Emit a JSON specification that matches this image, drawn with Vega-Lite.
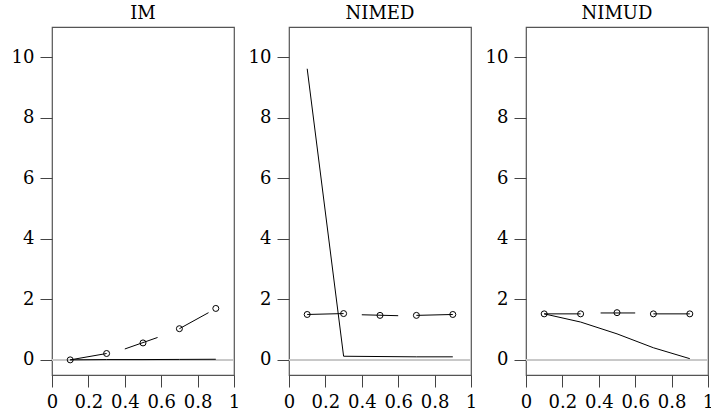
{
  "$schema": "https://vega.github.io/schema/vega-lite/v6.json",
  "padding": {"left": 10, "top": 5, "right": 2, "bottom": 2},
  "background": "white",
  "config": {
    "font": "DejaVu Serif",
    "view": {"stroke": "#555", "strokeWidth": 1.2},
    "axis": {"grid": false, "domain": false, "tickColor": "#444", "tickSize": 12, "labelFont": "DejaVu Serif", "labelFontSize": 18, "labelColor": "black", "title": null, "labelPadding": 6}
  },
  "data": {"values": [
    {"panel": "IM", "kind": "pt", "grp": "p", "x": 0.1, "y": 0.0},
    {"panel": "IM", "kind": "pt", "grp": "p", "x": 0.3, "y": 0.21},
    {"panel": "IM", "kind": "pt", "grp": "p", "x": 0.5, "y": 0.56},
    {"panel": "IM", "kind": "pt", "grp": "p", "x": 0.7, "y": 1.03},
    {"panel": "IM", "kind": "pt", "grp": "p", "x": 0.9, "y": 1.70},
    {"panel": "IM", "kind": "seg", "grp": "A", "x": 0.1, "y": 0.0},
    {"panel": "IM", "kind": "seg", "grp": "A", "x": 0.3, "y": 0.21},
    {"panel": "IM", "kind": "seg", "grp": "B", "x": 0.4, "y": 0.36},
    {"panel": "IM", "kind": "seg", "grp": "B", "x": 0.58, "y": 0.74},
    {"panel": "IM", "kind": "seg", "grp": "C", "x": 0.7, "y": 1.03},
    {"panel": "IM", "kind": "seg", "grp": "C", "x": 0.86, "y": 1.56},
    {"panel": "IM", "kind": "solid", "grp": "s", "x": 0.1, "y": 0.0},
    {"panel": "IM", "kind": "solid", "grp": "s", "x": 0.3, "y": 0.01},
    {"panel": "IM", "kind": "solid", "grp": "s", "x": 0.5, "y": 0.01},
    {"panel": "IM", "kind": "solid", "grp": "s", "x": 0.7, "y": 0.015},
    {"panel": "IM", "kind": "solid", "grp": "s", "x": 0.9, "y": 0.02},

    {"panel": "NIMED", "kind": "pt", "grp": "p", "x": 0.1, "y": 1.50},
    {"panel": "NIMED", "kind": "pt", "grp": "p", "x": 0.3, "y": 1.53},
    {"panel": "NIMED", "kind": "pt", "grp": "p", "x": 0.5, "y": 1.47},
    {"panel": "NIMED", "kind": "pt", "grp": "p", "x": 0.7, "y": 1.47},
    {"panel": "NIMED", "kind": "pt", "grp": "p", "x": 0.9, "y": 1.50},
    {"panel": "NIMED", "kind": "seg", "grp": "A", "x": 0.1, "y": 1.50},
    {"panel": "NIMED", "kind": "seg", "grp": "A", "x": 0.3, "y": 1.53},
    {"panel": "NIMED", "kind": "seg", "grp": "B", "x": 0.4, "y": 1.49},
    {"panel": "NIMED", "kind": "seg", "grp": "B", "x": 0.6, "y": 1.46},
    {"panel": "NIMED", "kind": "seg", "grp": "C", "x": 0.7, "y": 1.47},
    {"panel": "NIMED", "kind": "seg", "grp": "C", "x": 0.9, "y": 1.50},
    {"panel": "NIMED", "kind": "solid", "grp": "s", "x": 0.1, "y": 9.62},
    {"panel": "NIMED", "kind": "solid", "grp": "s", "x": 0.3, "y": 0.12},
    {"panel": "NIMED", "kind": "solid", "grp": "s", "x": 0.5, "y": 0.11},
    {"panel": "NIMED", "kind": "solid", "grp": "s", "x": 0.7, "y": 0.10},
    {"panel": "NIMED", "kind": "solid", "grp": "s", "x": 0.9, "y": 0.10},

    {"panel": "NIMUD", "kind": "pt", "grp": "p", "x": 0.1, "y": 1.52},
    {"panel": "NIMUD", "kind": "pt", "grp": "p", "x": 0.3, "y": 1.52},
    {"panel": "NIMUD", "kind": "pt", "grp": "p", "x": 0.5, "y": 1.56},
    {"panel": "NIMUD", "kind": "pt", "grp": "p", "x": 0.7, "y": 1.52},
    {"panel": "NIMUD", "kind": "pt", "grp": "p", "x": 0.9, "y": 1.52},
    {"panel": "NIMUD", "kind": "seg", "grp": "A", "x": 0.1, "y": 1.52},
    {"panel": "NIMUD", "kind": "seg", "grp": "A", "x": 0.3, "y": 1.52},
    {"panel": "NIMUD", "kind": "seg", "grp": "B", "x": 0.41, "y": 1.55},
    {"panel": "NIMUD", "kind": "seg", "grp": "B", "x": 0.6, "y": 1.55},
    {"panel": "NIMUD", "kind": "seg", "grp": "C", "x": 0.7, "y": 1.52},
    {"panel": "NIMUD", "kind": "seg", "grp": "C", "x": 0.9, "y": 1.52},
    {"panel": "NIMUD", "kind": "solid", "grp": "s", "x": 0.1, "y": 1.52},
    {"panel": "NIMUD", "kind": "solid", "grp": "s", "x": 0.3, "y": 1.25},
    {"panel": "NIMUD", "kind": "solid", "grp": "s", "x": 0.5, "y": 0.86},
    {"panel": "NIMUD", "kind": "solid", "grp": "s", "x": 0.7, "y": 0.40},
    {"panel": "NIMUD", "kind": "solid", "grp": "s", "x": 0.9, "y": 0.04}
  ]},
  "facet": {"column": {"field": "panel", "type": "nominal", "sort": ["IM", "NIMED", "NIMUD"], "header": {"title": null, "labelFont": "DejaVu Serif", "labelFontSize": 18, "labelFontWeight": "normal", "labelColor": "black", "labelPadding": 4}}},
  "bounds": "flush",
  "spacing": 55,
  "resolve": {"axis": {"y": "independent", "x": "independent"}},
  "spec": {
    "width": 182,
    "height": 348,
    "encoding": {
      "x": {"field": "x", "type": "quantitative", "scale": {"domain": [0, 1], "nice": false, "zero": false}, "axis": {"values": [0, 0.2, 0.4, 0.6, 0.8, 1], "labelExpr": "datum.value + ''", "labelFlush": false}},
      "y": {"field": "y", "type": "quantitative", "scale": {"domain": [-0.5, 11], "nice": false, "zero": false}, "axis": {"values": [0, 2, 4, 6, 8, 10], "labelExpr": "datum.value + ''"}}
    },
    "layer": [
      {"mark": {"type": "rule", "color": "#c8c8c8", "strokeWidth": 1.2}, "encoding": {"y": {"datum": 0}, "x": null}},
      {"transform": [{"filter": "datum.kind == 'solid'"}], "mark": {"type": "line", "color": "black", "strokeWidth": 1}, "encoding": {"order": {"field": "x"}}},
      {"transform": [{"filter": "datum.kind == 'seg'"}], "mark": {"type": "line", "color": "black", "strokeWidth": 1}, "encoding": {"detail": {"field": "grp"}, "order": {"field": "x"}}},
      {"transform": [{"filter": "datum.kind == 'pt'"}], "mark": {"type": "point", "shape": "circle", "filled": false, "stroke": "black", "strokeWidth": 1, "size": 36, "opacity": 1}}
    ]
  }
}
